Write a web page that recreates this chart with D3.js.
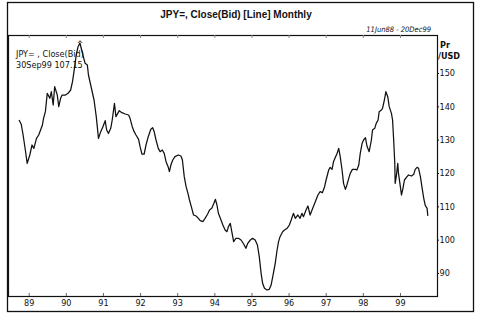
<!DOCTYPE html>
<html>
<head>
<meta charset="utf-8">
<script src="https://cdn.jsdelivr.net/npm/d3@7"></script>
<style>
  body { margin: 0; background: #fff; }
  text { font-family: "Liberation Sans Narrow", "DejaVu Sans Condensed", "Liberation Sans", sans-serif; fill: #111; }
</style>
</head>
<body>
<script>
// time as decimal years, close in JPY per USD
var times = [
  1988.74, 1988.80, 1988.85, 1988.91, 1988.96, 1989.03, 1989.09, 1989.14, 1989.21, 1989.27,
  1989.32, 1989.37, 1989.40, 1989.45, 1989.50, 1989.57, 1989.61, 1989.66, 1989.70, 1989.77,
  1989.81, 1989.86, 1989.90, 1989.99, 1990.06, 1990.13, 1990.18, 1990.22, 1990.28, 1990.33,
  1990.38, 1990.46, 1990.52, 1990.58, 1990.61, 1990.70, 1990.76, 1990.82, 1990.88, 1990.94,
  1991.00, 1991.06, 1991.10, 1991.15, 1991.21, 1991.25, 1991.31, 1991.35, 1991.40, 1991.44,
  1991.51, 1991.60, 1991.69, 1991.73, 1991.79, 1991.84, 1991.89, 1991.96, 1992.00, 1992.05,
  1992.11, 1992.16, 1992.22, 1992.29, 1992.34, 1992.38, 1992.43, 1992.49, 1992.54, 1992.60,
  1992.65, 1992.70, 1992.76, 1992.79, 1992.83, 1992.88, 1992.94, 1993.03, 1993.10, 1993.14,
  1993.19, 1993.24, 1993.29, 1993.33, 1993.38, 1993.44, 1993.51, 1993.57, 1993.62, 1993.69,
  1993.75, 1993.82, 1993.87, 1993.93, 1993.98, 1994.03, 1994.07, 1994.11, 1994.18, 1994.23,
  1994.29, 1994.34, 1994.38, 1994.43, 1994.47, 1994.52, 1994.58, 1994.65, 1994.72, 1994.79,
  1994.85, 1994.90, 1994.97, 1995.03, 1995.10, 1995.16, 1995.21, 1995.26, 1995.30, 1995.35,
  1995.42, 1995.48, 1995.53, 1995.59, 1995.64, 1995.69, 1995.73, 1995.77, 1995.84, 1995.89,
  1995.96, 1996.02, 1996.07, 1996.13, 1996.18, 1996.25, 1996.31, 1996.36, 1996.40, 1996.47,
  1996.52, 1996.58, 1996.65, 1996.72, 1996.79, 1996.85, 1996.91, 1996.97, 1997.01, 1997.08,
  1997.12, 1997.17, 1997.21, 1997.26, 1997.30, 1997.35, 1997.39, 1997.44, 1997.48, 1997.53,
  1997.57, 1997.62, 1997.66, 1997.72, 1997.80, 1997.84, 1997.89, 1997.93, 1997.98, 1998.02,
  1998.07, 1998.11, 1998.17, 1998.23, 1998.26, 1998.32, 1998.36, 1998.41, 1998.44, 1998.50,
  1998.53, 1998.58, 1998.62, 1998.67, 1998.71, 1998.77, 1998.80, 1998.83, 1998.86, 1998.87,
  1998.90, 1998.94, 1998.96, 1999.01, 1999.04, 1999.08, 1999.12, 1999.19, 1999.23, 1999.31,
  1999.37, 1999.41, 1999.46, 1999.50, 1999.55, 1999.59, 1999.64, 1999.68, 1999.73, 1999.75
];
var closes = [
  135.9, 134.6, 131.4, 126.9, 122.9, 125.4, 128.4, 127.4, 130.4, 131.4,
  132.9, 134.4, 136.4, 138.4, 143.9, 142.4, 144.4, 140.4, 145.9, 143.4,
  139.9, 142.4, 143.4, 143.4, 143.9, 144.9, 147.4, 150.4, 155.4, 157.9,
  159.0, 155.4, 152.9, 152.4, 149.4, 144.9, 141.9, 136.9, 130.4, 132.4,
  133.9, 135.7, 132.9, 131.9, 133.4, 135.9, 140.9, 136.9, 137.9, 138.7,
  138.1, 137.7, 137.4, 136.4, 133.9, 132.4, 131.4, 130.1, 127.9, 125.7,
  125.7, 128.4, 130.9, 133.1, 133.6, 132.4, 129.9, 127.4, 126.4, 126.9,
  125.9, 123.4, 121.7, 120.4, 122.4, 123.9, 124.9, 125.4, 125.1, 123.9,
  118.9, 115.9, 113.9, 111.9, 109.9, 107.4, 107.1, 106.4, 105.7, 105.4,
  106.4, 107.7, 108.9, 109.4, 110.7, 112.1, 110.4, 107.9, 105.9, 104.4,
  102.9, 102.4, 103.9, 104.9, 102.4, 99.4, 100.4, 100.4, 99.9, 98.7,
  97.4, 98.9, 99.9, 100.4, 99.9, 98.4, 94.9, 89.9, 86.9, 85.4,
  84.9, 85.1, 86.4, 89.9, 92.9, 96.9, 99.4, 100.9, 102.4, 102.9,
  103.4, 104.4, 105.9, 107.9, 106.4, 107.4, 106.4, 107.9, 106.9, 108.9,
  110.1, 107.4, 109.4, 111.4, 113.4, 114.4, 114.1, 115.9, 117.9, 120.9,
  121.7, 121.1, 123.4, 124.7, 125.7, 127.4, 124.9, 120.9, 116.9, 115.1,
  116.4, 118.4, 119.9, 121.1, 121.1, 120.9, 122.4, 125.9, 128.9, 129.9,
  130.6, 128.1, 126.4, 129.9, 132.9, 133.4, 134.9, 135.9, 138.4, 138.9,
  139.4, 141.9, 144.4, 142.9, 139.9, 137.9, 135.9, 129.9, 122.9, 116.9,
  118.9, 122.9, 119.9, 115.9, 113.4, 115.4, 117.9, 118.9, 119.4, 119.1,
  119.6, 121.1, 121.7, 121.4, 118.9, 115.9, 112.4, 110.3, 109.4, 107.15
];
var yearTicks = [1989, 1990, 1991, 1992, 1993, 1994, 1995, 1996, 1997, 1998, 1999];
var priceTicks = [90, 100, 110, 120, 130, 140, 150];
var titleText = "JPY=, Close(Bid) [Line] Monthly";
var rangeText = "11Jun88 - 20Dec99";
var legendLines = ["JPY= , Close(Bid)", "30Sep99 107.15"];
var unitLines = ["Pr", "/USD"];

var W = 481, H = 316;
var plot = { left: 8, top: 35, right: 437, bottom: 296 };

var svg = d3.select("body").append("svg").attr("width", W).attr("height", H);

var x = d3.scaleLinear().domain([1988.443, 1999.97]).range([plot.left, 436]);
var y = d3.scaleLinear().domain([83.1, 161.4]).range([plot.bottom, plot.top]);

// outer frame + plot box
svg.append("rect").attr("x", 7.5).attr("y", 2.5).attr("width", 466).attr("height", 309)
  .attr("fill", "none").attr("stroke", "#111").attr("stroke-width", 1.3);
svg.append("rect").attr("x", plot.left + 0.5).attr("y", plot.top + 0.5)
  .attr("width", plot.right - plot.left).attr("height", plot.bottom - plot.top)
  .attr("fill", "none").attr("stroke", "#111").attr("stroke-width", 1.2);

svg.append("text").attr("x", 236).attr("y", 18).attr("text-anchor", "middle")
  .style("font-family", "'Liberation Sans', Arial, sans-serif")
  .style("font-weight", "bold").style("font-size", "10px").text(titleText);
svg.append("text").attr("x", 431).attr("y", 31.5).attr("text-anchor", "end")
  .style("font-style", "italic").style("font-size", "7.5px").text(rangeText);

// x axis, ticks pointing inward at bottom and top
var xAxis = svg.append("g").attr("transform", "translate(0," + plot.bottom + ")")
  .call(d3.axisBottom(x).tickValues(yearTicks).tickSize(-3).tickPadding(4)
    .tickFormat(function (d) { return String(d % 100).padStart(2, "0"); }));
xAxis.select(".domain").remove();
xAxis.selectAll("text").style("font-size", "9px").attr("fill", "#111");
xAxis.selectAll("line").attr("stroke", "#666");

var xTop = svg.append("g").attr("transform", "translate(0," + plot.top + ")")
  .call(d3.axisTop(x).tickValues(yearTicks).tickSize(-3).tickFormat(""));
xTop.select(".domain").remove();
xTop.selectAll("line").attr("stroke", "#888");

var yAxis = svg.append("g").attr("transform", "translate(" + plot.right + ",0)")
  .call(d3.axisRight(y).tickValues(priceTicks).tickSize(2).tickPadding(0.5));
yAxis.select(".domain").remove();
yAxis.selectAll("text").style("font-size", "9px").attr("fill", "#111");
yAxis.selectAll("line").attr("stroke", "#111");

svg.selectAll(".unit").data(unitLines).enter().append("text").attr("class", "unit")
  .attr("x", function (d, i) { return i ? 438 : 440; })
  .attr("y", function (d, i) { return 48 + i * 11; })
  .style("font-size", "9px").style("font-weight", "bold").text(function (d) { return d; });

// price line
var pts = times.map(function (t, i) { return [t, closes[i]]; });
svg.append("path").datum(pts)
  .attr("fill", "none").attr("stroke", "#111").attr("stroke-width", 1.25)
  .attr("stroke-linejoin", "round")
  .attr("d", d3.line().x(function (d) { return x(d[0]); }).y(function (d) { return y(d[1]); }));

// caret over the high
var hi = pts[d3.maxIndex(pts, function (d) { return d[1]; })];
svg.append("text").attr("x", x(hi[0])).attr("y", y(hi[1]) + 4).attr("text-anchor", "middle")
  .style("font-size", "8px").text("^");

svg.selectAll(".legend").data(legendLines).enter().append("text").attr("class", "legend")
  .attr("x", 16).attr("y", function (d, i) { return 56.5 + i * 11; })
  .style("font-size", "9px").text(function (d) { return d; });
</script>
</body>
</html>
